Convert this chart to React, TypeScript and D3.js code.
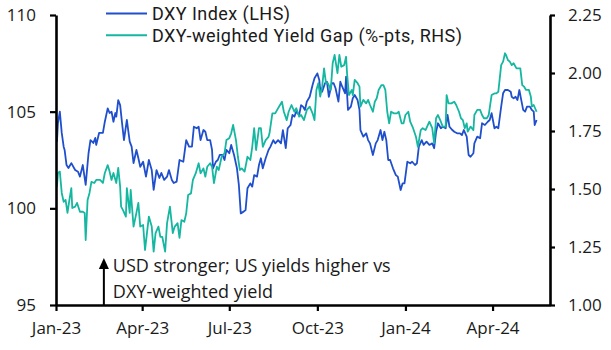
import { useEffect, useRef } from 'react';
import * as d3 from 'd3';

// days are counted from 1 Jan 2023
const startDate = new Date(2023, 0, 1);
const endDate = new Date(2024, 4, 31);

const xTickDates = [
  new Date(2023, 0, 1), new Date(2023, 3, 1), new Date(2023, 6, 1),
  new Date(2023, 9, 1), new Date(2024, 0, 1), new Date(2024, 3, 1)
];
const leftTicks = [95, 100, 105, 110];
const rightTicks = [1.0, 1.25, 1.5, 1.75, 2.0, 2.25];
const seriesNames = ['DXY Index (LHS)', 'DXY-weighted Yield Gap (%-pts, RHS)'];
const seriesColors = ['#1f4fcc', '#15b7a1'];
const noteLines = ['USD stronger; US yields higher vs', 'DXY-weighted yield'];

const dxy: [number, number][] = [
  [1, 103.45], [2, 104.40], [4, 105.00], [6, 103.90], [8, 103.19], [9, 103.02], [11, 102.24], [13, 102.09],
  [16, 102.34], [20, 101.98], [23, 101.89], [25, 101.64], [28, 102.24], [31, 101.21], [34, 102.86], [36, 103.53],
  [39, 103.38], [41, 103.64], [42, 103.28], [45, 103.90], [49, 103.90], [51, 104.48], [54, 105.17], [56, 104.93],
  [58, 105.00], [60, 104.48], [62, 104.93], [63, 104.74], [65, 105.60], [67, 105.34], [69, 104.41], [71, 103.53],
  [74, 104.57], [77, 103.45], [79, 103.19], [81, 102.34], [84, 103.02], [86, 102.60], [88, 102.15], [91, 102.41],
  [94, 101.64], [97, 102.50], [100, 101.98], [102, 100.95], [105, 101.98], [108, 101.57], [110, 101.83], [113, 101.47],
  [116, 101.64], [118, 101.98], [121, 101.47], [123, 101.31], [126, 101.38], [129, 102.50], [133, 102.41], [136, 103.53],
  [139, 103.19], [142, 103.19], [144, 104.22], [147, 104.14], [149, 104.22], [151, 103.53], [154, 104.05], [156, 103.96],
  [158, 103.53], [161, 103.53], [163, 103.02], [164, 102.07], [167, 102.41], [169, 102.50], [171, 102.76], [174, 102.76],
  [176, 102.50], [178, 103.02], [181, 102.85], [183, 103.28], [186, 102.76], [189, 102.07], [191, 101.21], [193, 99.74],
  [196, 99.83], [198, 99.91], [200, 101.04], [203, 101.29], [205, 101.12], [207, 101.72], [210, 101.64], [212, 102.24],
  [214, 102.59], [216, 102.07], [219, 102.59], [222, 103.02], [224, 103.19], [227, 103.53], [229, 103.36], [232, 103.53],
  [235, 103.36], [237, 104.05], [240, 103.11], [242, 104.14], [245, 104.31], [247, 104.83], [249, 104.74], [251, 105.00],
  [254, 104.83], [256, 105.34], [258, 105.26], [260, 105.09], [262, 105.52], [265, 105.77], [268, 106.38], [270, 106.73],
  [273, 106.98], [275, 106.64], [276, 106.12], [278, 106.03], [281, 106.47], [283, 106.55], [285, 105.77], [288, 106.47],
  [290, 106.47], [292, 106.21], [295, 105.52], [297, 106.55], [299, 106.29], [302, 105.95], [303, 106.81], [305, 105.09],
  [308, 105.26], [310, 105.69], [312, 105.86], [315, 105.60], [317, 105.09], [318, 104.05], [321, 103.71], [324, 103.88],
  [326, 103.53], [328, 103.36], [331, 102.76], [334, 103.36], [336, 103.53], [339, 104.05], [341, 103.53], [343, 103.96],
  [345, 103.53], [347, 102.50], [349, 102.50], [352, 102.07], [355, 101.72], [357, 101.64], [360, 100.95], [362, 101.29],
  [364, 101.29], [367, 102.41], [370, 102.33], [372, 102.41], [375, 102.24], [377, 102.33], [379, 103.19], [382, 103.53],
  [384, 103.28], [387, 103.45], [390, 103.28], [393, 103.36], [395, 103.11], [397, 103.96], [399, 104.40], [402, 104.14],
  [404, 104.22], [407, 104.14], [409, 104.83], [411, 104.22], [414, 104.05], [416, 103.96], [419, 103.88], [422, 103.88],
  [424, 103.79], [426, 104.05], [429, 103.71], [431, 102.76], [433, 102.67], [436, 102.85], [437, 103.36], [440, 103.71],
  [443, 103.62], [445, 104.40], [448, 104.31], [451, 104.48], [453, 104.57], [455, 104.92], [458, 104.14], [460, 104.22],
  [462, 104.14], [465, 105.26], [467, 105.95], [469, 106.12], [472, 106.12], [475, 106.03], [476, 105.77], [478, 105.69],
  [480, 105.77], [482, 105.60], [484, 106.12], [486, 105.60], [488, 105.09], [490, 105.00], [492, 105.26], [495, 105.26],
  [497, 105.09], [499, 105.00], [500, 104.31], [502, 104.57]
];

const yieldGap: [number, number][] = [
  [1, 1.510], [2, 1.569], [4, 1.575], [6, 1.483], [8, 1.445], [10, 1.453], [12, 1.397], [14, 1.453],
  [16, 1.504], [17, 1.418], [20, 1.424], [22, 1.440], [25, 1.402], [28, 1.402], [30, 1.397], [31, 1.280],
  [33, 1.453], [35, 1.483], [37, 1.531], [40, 1.526], [42, 1.539], [46, 1.539], [49, 1.526], [51, 1.569],
  [54, 1.603], [56, 1.575], [58, 1.539], [60, 1.569], [63, 1.526], [65, 1.591], [67, 1.510], [68, 1.424],
  [70, 1.409], [73, 1.381], [74, 1.504], [77, 1.397], [78, 1.496], [81, 1.338], [84, 1.397], [86, 1.440],
  [88, 1.338], [91, 1.345], [93, 1.237], [95, 1.310], [97, 1.381], [100, 1.338], [102, 1.230], [104, 1.310],
  [107, 1.338], [109, 1.294], [111, 1.294], [114, 1.230], [116, 1.353], [119, 1.424], [122, 1.310], [124, 1.338],
  [127, 1.353], [129, 1.289], [131, 1.366], [134, 1.359], [136, 1.395], [138, 1.474], [141, 1.481], [143, 1.539],
  [146, 1.568], [149, 1.611], [151, 1.568], [154, 1.589], [156, 1.553], [158, 1.596], [161, 1.611], [163, 1.596],
  [165, 1.525], [168, 1.596], [170, 1.582], [173, 1.639], [176, 1.654], [178, 1.711], [181, 1.719], [183, 1.740],
  [185, 1.776], [188, 1.711], [190, 1.639], [192, 1.582], [194, 1.589], [197, 1.575], [200, 1.639], [203, 1.625],
  [205, 1.682], [207, 1.762], [209, 1.668], [212, 1.762], [214, 1.762], [216, 1.682], [219, 1.711], [222, 1.725],
  [223, 1.740], [226, 1.826], [229, 1.826], [231, 1.841], [234, 1.862], [236, 1.876], [238, 1.833], [241, 1.797],
  [243, 1.833], [246, 1.862], [249, 1.833], [251, 1.848], [254, 1.812], [256, 1.819], [259, 1.797], [262, 1.841],
  [265, 1.855], [268, 1.826], [270, 1.797], [272, 1.927], [274, 1.956], [276, 1.898], [278, 1.941], [280, 2.020],
  [282, 1.956], [284, 1.956], [287, 1.927], [289, 2.042], [291, 2.078], [294, 1.999], [296, 2.078], [298, 2.027],
  [301, 2.034], [303, 2.070], [304, 1.999], [306, 1.905], [309, 1.927], [310, 1.905], [312, 1.970], [315, 1.956],
  [317, 1.941], [318, 1.855], [321, 1.884], [324, 1.869], [326, 1.884], [328, 1.862], [331, 1.833], [333, 1.876],
  [335, 1.891], [337, 1.927], [340, 1.948], [342, 1.948], [344, 1.927], [346, 1.833], [348, 1.783], [350, 1.833],
  [353, 1.826], [356, 1.826], [358, 1.833], [361, 1.783], [363, 1.783], [365, 1.819], [368, 1.833], [370, 1.790],
  [373, 1.762], [376, 1.725], [378, 1.682], [381, 1.754], [383, 1.762], [386, 1.754], [390, 1.790], [393, 1.762],
  [395, 1.697], [397, 1.805], [399, 1.819], [402, 1.790], [404, 1.769], [407, 1.769], [408, 1.905], [410, 1.869],
  [413, 1.869], [416, 1.876], [418, 1.862], [421, 1.833], [423, 1.805], [425, 1.797], [427, 1.762], [429, 1.783],
  [430, 1.747], [433, 1.769], [436, 1.754], [437, 1.819], [440, 1.841], [443, 1.841], [445, 1.819], [447, 1.805],
  [450, 1.805], [452, 1.819], [455, 1.905], [458, 1.912], [460, 1.912], [462, 1.919], [465, 2.034], [467, 2.049],
  [469, 2.085], [470, 2.078], [472, 2.056], [474, 2.049], [476, 2.034], [478, 2.042], [481, 2.020], [483, 2.020],
  [485, 2.020], [487, 1.948], [489, 1.941], [491, 1.927], [494, 1.927], [496, 1.898], [497, 1.855], [499, 1.862],
  [502, 1.833]
];

const FONT = '"Open Sans", "Noto Sans", sans-serif';
const LEGEND_FONT = 'Roboto, "Open Sans", sans-serif';

export default function App() {
  const svgRef = useRef<SVGSVGElement | null>(null);

  useEffect(() => {
    if (!svgRef.current) return;
    const svg = d3.select(svgRef.current);
    svg.selectAll('*').remove();

    const width = 611;
    const height = 350;
    const margin = { top: 15, right: 61, bottom: 45, left: 56 };

    const x = d3.scaleTime()
      .domain([startDate, endDate])
      .range([margin.left, width - margin.right]);
    const yL = d3.scaleLinear().domain([95, 110]).range([height - margin.bottom, margin.top]);
    const yR = d3.scaleLinear().domain([1, 2.25]).range([height - margin.bottom, margin.top]);

    const toDate = (d: number) => d3.timeDay.offset(startDate, d);

    // --- LINES ---
    const lineL = d3.line<[number, number]>()
      .x(d => x(toDate(d[0])))
      .y(d => yL(d[1]));
    const lineR = d3.line<[number, number]>()
      .x(d => x(toDate(d[0])))
      .y(d => yR(d[1]));

    svg.append('path')
      .datum(dxy)
      .attr('d', lineL)
      .attr('fill', 'none')
      .attr('stroke', seriesColors[0])
      .attr('stroke-width', 1.8)
      .attr('stroke-linejoin', 'round');

    svg.append('path')
      .datum(yieldGap)
      .attr('d', lineR)
      .attr('fill', 'none')
      .attr('stroke', seriesColors[1])
      .attr('stroke-width', 1.8)
      .attr('stroke-linejoin', 'round');

    // --- AXES ---
    const styleAxis = (g: d3.Selection<SVGGElement, unknown, null, undefined>) => {
      g.select('.domain').attr('stroke', '#000').attr('stroke-width', 2.6);
      g.selectAll('.tick line').attr('stroke', '#000').attr('stroke-width', 2.2);
      g.selectAll('.tick text')
        .attr('fill', '#1a1a1a')
        .style('font-family', FONT)
        .style('font-size', '17px');
    };

    svg.append('g')
      .attr('transform', `translate(0,${height - margin.bottom})`)
      .call(d3.axisBottom(x)
        .tickValues(xTickDates)
        .tickFormat(d => d3.timeFormat('%b-%y')(d as Date))
        .tickSize(6)
        .tickPadding(11)
        .tickSizeOuter(0))
      .call(styleAxis);

    svg.append('g')
      .attr('transform', `translate(${margin.left},0)`)
      .call(d3.axisLeft(yL)
        .tickValues(leftTicks)
        .tickFormat(d3.format('d'))
        .tickSize(6)
        .tickPadding(14)
        .tickSizeOuter(0))
      .call(styleAxis);

    svg.append('g')
      .attr('transform', `translate(${width - margin.right},0)`)
      .call(d3.axisRight(yR)
        .tickValues(rightTicks)
        .tickFormat(d3.format('.2f'))
        .tickSize(5)
        .tickPadding(13)
        .tickSizeOuter(0))
      .call(styleAxis);

    // --- LEGEND ---
    const legend = svg.append('g');
    seriesNames.forEach((name, i) => {
      const ly = 13.5 + i * 21.8;
      legend.append('line')
        .attr('x1', 106).attr('x2', 147)
        .attr('y1', ly).attr('y2', ly)
        .attr('stroke', seriesColors[i])
        .attr('stroke-width', 2);
      legend.append('text')
        .attr('x', 152)
        .attr('y', ly + 6.5)
        .attr('fill', '#1a1a1a')
        .style('font-family', LEGEND_FONT)
        .style('font-size', '18px')
        .style('letter-spacing', '0.45px')
        .text(name);
    });

    // --- ANNOTATION ---
    const ax = x(toDate(50));
    svg.append('line')
      .attr('x1', ax).attr('x2', ax)
      .attr('y1', height - margin.bottom).attr('y2', 268)
      .attr('stroke', '#000')
      .attr('stroke-width', 2);
    svg.append('path')
      .attr('d', `M${ax},258 L${ax - 5},269 L${ax + 5},269 Z`)
      .attr('fill', '#000');
    noteLines.forEach((t, i) => {
      svg.append('text')
        .attr('x', ax + 9)
        .attr('y', 272 + i * 26)
        .attr('fill', '#1a1a1a')
        .style('font-family', FONT)
        .style('font-size', '18px')
        .text(t);
    });
  }, []);

  return (
    <div style={{ position: 'absolute', left: 0, top: 0, background: '#fff' }}>
      <svg ref={svgRef} width={611} height={350} style={{ display: 'block' }} />
    </div>
  );
}
